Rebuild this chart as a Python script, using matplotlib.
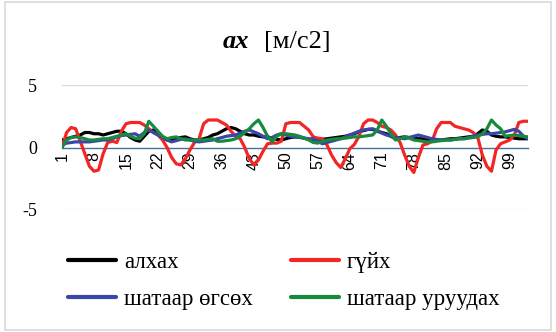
import matplotlib
matplotlib.use("Agg")
import matplotlib.pyplot as plt
from matplotlib.patches import Rectangle
import numpy as np

categories = list(range(1, 104))

alkhakh = [0.6, 0.7, 0.8, 0.9, 1.0, 1.2, 1.2, 1.1, 1.1, 1.0,
           1.1, 1.2, 1.3, 1.3, 1.1, 0.8, 0.6, 0.5, 0.9, 1.3,
           1.4, 1.1, 0.8, 0.6, 0.6, 0.7, 0.8, 0.85, 0.7, 0.6,
           0.6, 0.7, 0.8, 1.0, 1.1, 1.3, 1.5, 1.6, 1.5, 1.3,
           1.1, 1.0, 1.0, 0.9, 0.85, 0.85, 0.75, 0.65, 0.6, 0.7,
           0.8, 0.85, 0.85, 0.75, 0.65, 0.6, 0.6, 0.65, 0.7, 0.75,
           0.8, 0.85, 0.9, 1.0, 1.1, 1.25, 1.35, 1.45, 1.45, 1.3,
           1.2, 1.1, 0.9, 0.7, 0.8, 0.85, 0.8, 0.75, 0.7, 0.7,
           0.65, 0.6, 0.6, 0.6, 0.65, 0.7, 0.7, 0.75, 0.8, 0.85,
           0.9, 1.1, 1.4, 1.3, 1.0, 0.9, 0.85, 0.85, 0.8, 0.75,
           0.7, 0.7, 0.7]

guikh = [0.0, 1.2, 1.6, 1.5, 0.5, -0.5, -1.5, -1.9, -1.8, -0.5,
         0.4, 0.5, 0.4, 1.3, 1.9, 2.0, 2.0, 2.0, 1.8, 1.5,
         1.2, 1.0, 0.6, 0.0, -0.8, -1.3, -1.4, -0.9, -0.2, 0.4,
         0.7, 1.9, 2.2, 2.2, 2.2, 2.0, 1.8, 1.3, 0.9, 0.7,
         0.0, -0.9, -1.4, -1.0, -0.3, 0.3, 0.35, 0.35, 0.5, 1.9,
         2.0, 2.0, 2.0, 1.7, 1.4, 0.85, 0.75, 0.7, 0.2, -0.6,
         -1.2, -1.6, -0.9, -0.1, 0.25, 0.9, 1.9, 2.2, 2.2, 2.0,
         1.7, 1.6, 1.4, 1.0, 0.4, -0.6, -1.5, -2.0, -0.8, 0.2,
         0.3, 0.5, 1.5, 2.0, 2.0, 2.0, 1.7, 1.6, 1.5, 1.4,
         1.2, 0.8, -0.6, -1.5, -1.9, -0.2, 0.3, 0.45, 0.6, 1.0,
         2.0, 2.1, 2.1]

shataar_ogsokh = [0.2, 0.35, 0.4, 0.45, 0.45, 0.45, 0.45, 0.5, 0.55, 0.6,
                  0.6, 0.7, 0.85, 0.95, 1.0, 1.05, 1.1, 0.9, 1.2, 1.4,
                  1.2, 1.0, 0.8, 0.6, 0.45, 0.55, 0.65, 0.7, 0.6, 0.5,
                  0.45, 0.5, 0.55, 0.6, 0.7, 0.8, 0.9, 0.95, 1.0, 1.15,
                  1.3, 1.4, 1.25, 1.1, 0.9, 0.7, 0.8, 1.0, 1.1, 1.0,
                  0.9, 0.85, 0.8, 0.75, 0.7, 0.7, 0.5, 0.3, 0.4, 0.5,
                  0.6, 0.7, 0.85, 1.0, 1.15, 1.3, 1.4, 1.45, 1.5, 1.35,
                  1.15, 1.0, 0.9, 0.8, 0.75, 0.7, 0.8, 0.9, 1.0, 0.9,
                  0.8, 0.7, 0.65, 0.6, 0.6, 0.6, 0.65, 0.7, 0.7, 0.8,
                  0.9, 1.0, 1.05, 1.1, 1.1, 1.15, 1.2, 1.25, 1.35, 1.45,
                  1.3, 0.9, 0.7]

shataar_uruudakh = [0.0, 0.6, 0.8, 0.85, 0.8, 0.7, 0.6, 0.6, 0.65, 0.7,
                    0.7, 0.8, 0.9, 1.0, 1.1, 0.9, 0.75, 0.7, 1.1, 2.1,
                    1.7, 1.3, 0.9, 0.7, 0.8, 0.85, 0.7, 0.6, 0.6, 0.6,
                    0.6, 0.6, 0.65, 0.7, 0.5, 0.5, 0.55, 0.6, 0.7, 0.9,
                    1.2, 1.5, 1.9, 2.2, 1.6, 0.9, 0.45, 0.9, 1.1, 1.1,
                    1.05, 1.0, 0.9, 0.75, 0.6, 0.4, 0.35, 0.5, 0.6, 0.65,
                    0.7, 0.7, 0.75, 0.8, 0.85, 0.85, 0.9, 0.95, 1.0, 1.4,
                    2.2, 1.7, 1.1, 0.6, 0.7, 0.85, 0.75, 0.6, 0.55, 0.5,
                    0.45, 0.45, 0.5, 0.55, 0.6, 0.6, 0.65, 0.7, 0.7, 0.75,
                    0.8, 0.85, 1.1, 1.5, 2.2, 1.8, 1.5, 0.9, 0.95, 1.0,
                    0.95, 0.9, 0.85]

series_names = ["алхах", "гүйх", "шатаар өгсөх", "шатаар уруудах"]
series_values = [alkhakh, guikh, shataar_ogsokh, shataar_uruudakh]
series_colors = ["#000000", "#F42525", "#3A46A8", "#188A3E"]
y_ticks = [-5, 0, 5]
x_tick_labels = [str(c) for c in categories[::7]]

W, H = 556, 332
fig = plt.figure(figsize=(W / 100, H / 100), dpi=100)
fig.patch.set_facecolor("white")
fig.patches.append(Rectangle((5 / W, 2 / H), 546 / W, 328 / H, transform=fig.transFigure,
                             fill=False, edgecolor="#D9D9D9", linewidth=1.2))

ax = fig.add_axes([62 / W, 1 - 210 / H, 466 / W, 125 / H])
lines = {}
for name, vals, col in zip(series_names, series_values, series_colors):
    ln, = ax.plot(categories, vals, color=col, linewidth=2.3, label=name,
                  solid_joinstyle="round", solid_capstyle="round")
    lines[name] = ln

ax.set_xlim(1, 103)
ax.set_ylim(-5, 5)
ax.set_yticks(y_ticks)
ax.set_yticklabels([str(v) for v in y_ticks], fontfamily="Liberation Serif", fontsize=13)
for v in (-5, 5):
    ax.axhline(v, color="#D9D9D9", linewidth=0.9, zorder=0)

for s in ("top", "right", "left"):
    ax.spines[s].set_visible(False)
ax.spines["bottom"].set_position(("data", 0))
ax.spines["bottom"].set_color("#44709C")
ax.spines["bottom"].set_linewidth(1.0)
ax.spines["bottom"].set_zorder(1)

ax.set_xticks(categories[::7])
ax.set_xticklabels(x_tick_labels, rotation=90, fontfamily="Liberation Sans", fontsize=11.5)
ax.tick_params(axis="x", length=0, pad=3)
ax.tick_params(axis="y", length=0, pad=18)

fig.text(249 / W, 1 - 42 / H, "ax", ha="right", va="center", fontfamily="Liberation Serif",
         fontsize=19, fontweight="bold", fontstyle="italic")
fig.text(264 / W, 1 - 42 / H, "[м/с2]", ha="left", va="center", fontfamily="Liberation Serif",
         fontsize=19)

order = ["алхах", "шатаар өгсөх", "гүйх", "шатаар уруудах"]
leg = fig.legend(handles=[lines[n] for n in order], labels=order, ncol=2, loc="upper left",
                 bbox_to_anchor=(68 / W, 1 - 252 / H), frameon=False,
                 prop={"family": "Liberation Serif", "size": 16.5},
                 handlelength=2.1, handletextpad=0.35, columnspacing=1.65,
                 labelspacing=0.7, borderpad=0, borderaxespad=0)
for l in leg.get_lines():
    l.set_linewidth(3)

fig.savefig("out.png", dpi=100)
